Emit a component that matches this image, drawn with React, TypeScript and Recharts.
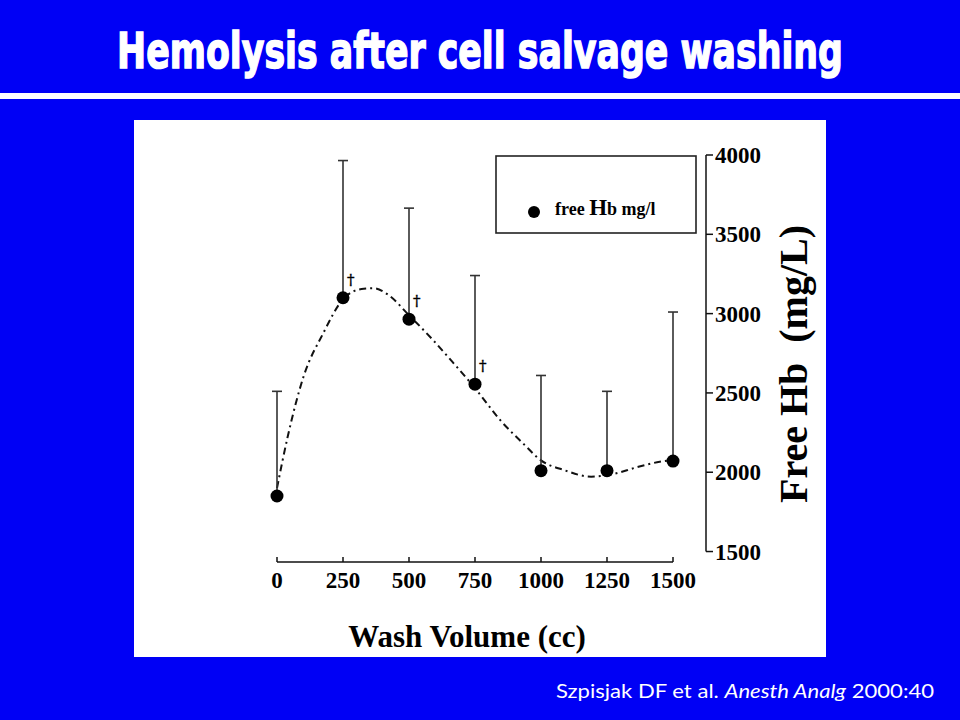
import { ComposedChart, Line, Scatter, ErrorBar, XAxis, YAxis, ReferenceLine } from 'recharts';

// measured points (wash volume in cc, free Hb mg/L, upper SD)
const washVolume = [0, 250, 500, 750, 1000, 1250, 1500];
const freeHb = [1850, 3100, 2965, 2555, 2010, 2010, 2070];
const freeHbSd = [660, 865, 700, 685, 600, 500, 940];
const significant = [false, true, true, true, false, false, false];

// dash-dot fitted curve
const fitVolume = [0, 40, 100, 175, 250, 320, 365, 420, 500, 590, 670, 750, 850, 930, 1000, 1090, 1190, 1275, 1360, 1450, 1500];
const fitHb = [1900, 2220, 2600, 2876, 3090, 3155, 3160, 3120, 2990, 2835, 2685, 2530, 2320, 2185, 2075, 2012, 1972, 1989, 2030, 2066, 2078];

const xTicks = [0, 250, 500, 750, 1000, 1250, 1500];
const yTicks = [1500, 2000, 2500, 3000, 3500, 4000];

const points = washVolume.map((x, i) => ({
  x,
  hb: freeHb[i],
  err: [0, freeHbSd[i]],
  sig: significant[i],
}));

const curve = fitVolume.map((x, i) => ({ x, fit: fitHb[i] }));

const serif = "'Liberation Serif', 'Times New Roman', serif";
const BLUE = '#0000f5';

const XTick = ({ x, y, payload }: any) => (
  <g>
    <line x1={x} x2={x} y1={y - 5} y2={y} stroke="#111" strokeWidth={1.5} />
    <text x={x} y={y + 26} textAnchor="middle" fontFamily={serif} fontWeight="bold" fontSize={23} fill="#000">
      {payload.value}
    </text>
  </g>
);

const Dot = (props: any) => {
  const { cx, cy, payload } = props;
  return (
    <g>
      <circle cx={cx} cy={cy} r={6.5} fill="#000" />
      {payload.sig && (
        <text x={cx + 4} y={cy - 13} fontFamily="'DejaVu Serif', serif" fontSize={15} fill="#000" stroke="#000" strokeWidth={0.4}>
          †
        </text>
      )}
    </g>
  );
};

export default function App() {
  return (
    <div style={{ position: 'absolute', left: 0, top: 0, width: 960, height: 720, background: BLUE, overflow: 'hidden' }}>
      <div style={{ position: 'absolute', left: 134, top: 120, width: 692, height: 537, background: '#fff' }}>
        <ComposedChart width={692} height={537} margin={{ top: 35, left: 143, right: 0, bottom: 0 }}>
          <XAxis
            dataKey="x"
            type="number"
            domain={[0, 1625]}
            ticks={xTicks}
            axisLine={false}
            tickLine={false}
            tickSize={0}
            tickMargin={0}
            height={95}
            tick={<XTick />}
          />
          <YAxis
            orientation="right"
            type="number"
            domain={[1434, 4000]}
            ticks={yTicks}
            width={120}
            axisLine={false}
            tickLine={{ stroke: '#111', strokeWidth: 1.5 }}
            tickSize={7}
            tickMargin={2}
            tick={{ fontFamily: serif, fontWeight: 'bold', fontSize: 23, fill: '#000' }}
          />
          <ReferenceLine
            segment={[{ x: 0, y: 1434 }, { x: 1500, y: 1434 }]}
            stroke="#111"
            strokeWidth={1.5}
          />
          <ReferenceLine
            segment={[{ x: 1625, y: 1500 }, { x: 1625, y: 4000 }]}
            stroke="#111"
            strokeWidth={1.5}
          />
          <Line
            data={curve}
            dataKey="fit"
            type="monotone"
            stroke="#111"
            strokeWidth={2}
            strokeDasharray="7 4 2 4"
            dot={false}
            activeDot={false}
            isAnimationActive={false}
          />
          <Scatter data={points} dataKey="hb" shape={<Dot />} isAnimationActive={false}>
            <ErrorBar dataKey="err" direction="y" width={5} stroke="#333" strokeWidth={1.6} />
          </Scatter>
        </ComposedChart>
      </div>

      <svg width={960} height={720} style={{ position: 'absolute', left: 0, top: 0, pointerEvents: 'none' }}>
        <text
          transform="translate(480,68) scale(0.695,1)"
          textAnchor="middle"
          fontFamily="'DejaVu Sans', sans-serif"
          fontWeight="bold"
          fontSize={50}
          fill="#fff"
          stroke="#fff"
          strokeWidth={1.6}
        >
          Hemolysis after cell salvage washing
        </text>
        <rect x={0} y={93} width={960} height={6} fill="#fff" />

        {/* legend box */}
        <rect x={496} y={156} width={200} height={77} fill="#fff" stroke="#222" strokeWidth={1.6} />
        <circle cx={534} cy={212} r={6} fill="#000" />
        <text x={555} y={215} fontFamily={serif} fontWeight="bold" fontSize={18} fill="#000">
          free <tspan fontSize={23}>H</tspan>b mg/l
        </text>

        {/* axis titles */}
        <text x={467} y={647} textAnchor="middle" fontFamily={serif} fontWeight="bold" fontSize={31} fill="#000">
          Wash Volume (cc)
        </text>
        <text
          transform="translate(807,364) rotate(-90)"
          textAnchor="middle"
          fontFamily={serif}
          fontWeight="bold"
          fontSize={40}
          fill="#000"
          style={{ whiteSpace: 'pre' }}
        >
          {'Free Hb  (mg/L)'}
        </text>

        <text x={556} y={698} fontFamily="Lato, 'Open Sans', sans-serif" fontSize={19} fill="#fff" textLength={378} lengthAdjust="spacingAndGlyphs" style={{ whiteSpace: 'pre' }}>
          {'Szpisjak DF et al. '}
          <tspan fontStyle="italic">Anesth Analg</tspan>
          {' 2000:40'}
        </text>
      </svg>
    </div>
  );
}
